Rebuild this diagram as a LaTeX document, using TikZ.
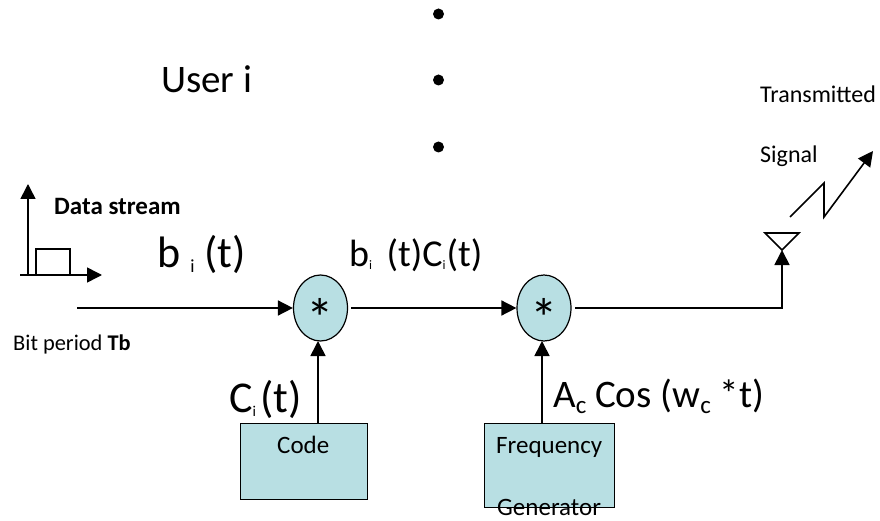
\documentclass[tikz,border=0pt]{standalone}
\usepackage{fontspec}
\setmainfont{Carlito}
\usetikzlibrary{arrows.meta,shapes.geometric}
\definecolor{tealfill}{HTML}{B8DFE3}
\newcommand{\fs}[1]{\fontsize{#1}{#1}\selectfont}
% subscript: #1 size factor, #2 drop, #3 text
\newcommand{\sbs}[3]{\raisebox{-#2em}{\fontsize{#1em}{#1em}\selectfont #3}}
\tikzset{
  conn/.style={line width=1.6pt,-{Triangle[length=15pt,width=15pt]}},
  plain/.style={line width=1.6pt},
  mult/.style={draw,line width=1.2pt,fill=tealfill,shape=ellipse,minimum width=54pt,minimum height=66pt,inner sep=0pt},
  blockbox/.style={draw,line width=1.4pt,fill=tealfill,anchor=north west,inner sep=0pt},
  lbl/.style={anchor=base west,inner sep=0pt,text=black},
  dotnode/.style={circle,fill=black,minimum size=11pt,inner sep=0pt}
}
\begin{document}
\begin{tikzpicture}[x=1pt,y=-1pt]
\useasboundingbox (0,0) rectangle (880,521);
% dots
\node[dotnode] (d1) at (438.5,14) {};
\node[dotnode] (d2) at (438.5,80) {};
\node[dotnode] (d3) at (438.5,147) {};
\node[lbl] (user) at (161,93) {\fs{39}User i};
% data stream inset
\coordinate (ax0) at (28,275);
\coordinate (axt) at (28,184);
\coordinate (axl) at (20,275);
\coordinate (axr) at (102,275);
\draw[conn] (ax0) -- (axt);
\draw[conn] (axl) -- (axr);
\draw[plain] (36,275) -- (36,249) -- (70,249) -- (70,275);
\node[lbl] (ds) at (54,215) {\fs{25}\bfseries Data stream};
\node[lbl] (bit) at (13,350) {\fs{22.4}Bit period \textbf{Tb}};
\node[lbl] (bt) at (157,268) {\fs{44}b \sbs{0.42}{0.11}{i} (t)};
% multipliers
\node[mult] (m1) at (320.5,308) {};
\node[mult] (m2) at (544,308) {};
\node[anchor=center,inner sep=0pt] (s1) at (320.5,318) {\fs{55}*};
\node[anchor=center,inner sep=0pt] (s2) at (544,318) {\fs{55}*};
% boxes
\node[blockbox,minimum width=127pt,minimum height=76pt] (code) at (240,423) {};
\node[blockbox,minimum width=130pt,minimum height=84pt] (freq) at (484,423) {};
\node[lbl] (codet) at (277,453) {\fs{25}Code};
\node[lbl] (freqt) at (496,453) {\fs{25}Frequency};
\node[lbl] (gent) at (497,515) {\fs{25}Generator};
% main connectors
\coordinate (in) at (77,308);
\coordinate (out1) at (351,308);
\coordinate (out2) at (575,308);
\coordinate (corner) at (782,308);
\coordinate (tip) at (782,250);
\draw[conn] (in) -- (m1.west);
\draw[conn] (out1) -- (m2.west);
\draw[conn] (out2) -- (corner) -- (tip);
\draw[conn] (code.north -| 318,0) -- (318,341);
\draw[conn] (freq.north -| 542,0) -- (542,341);
% antenna
\coordinate (al) at (765,233);
\coordinate (ar) at (799,233);
\draw[plain,line join=miter] (al) -- (ar) -- (tip) -- cycle;
% signal
\coordinate (z0) at (790,217);
\coordinate (z1) at (824,183);
\coordinate (z2) at (824,217);
\coordinate (z3) at (873,151);
\draw[conn,line join=miter] (z0) -- (z1) -- (z2) -- (z3);
\node[lbl] (tx) at (760,103) {\fs{24}Transmitted};
\node[lbl] (sig) at (760,163) {\fs{24}Signal};
\node[lbl] (prod) at (349,266) {\fs{38}b\sbs{0.34}{0.1}{i}\hspace{0.38em}(t)C\sbs{0.34}{0.1}{i}\hspace{0.03em}(t)};
\node[lbl] (ct) at (229,412) {\fs{44}C\sbs{0.34}{0.1}{i}\hspace{0.1em}(t)};
\node[lbl] (ac) at (553,407) {\fs{39}A\sbs{0.64}{0.16}{c} Cos (w\sbs{0.64}{0.16}{c} *t)};
\end{tikzpicture}
\end{document}
